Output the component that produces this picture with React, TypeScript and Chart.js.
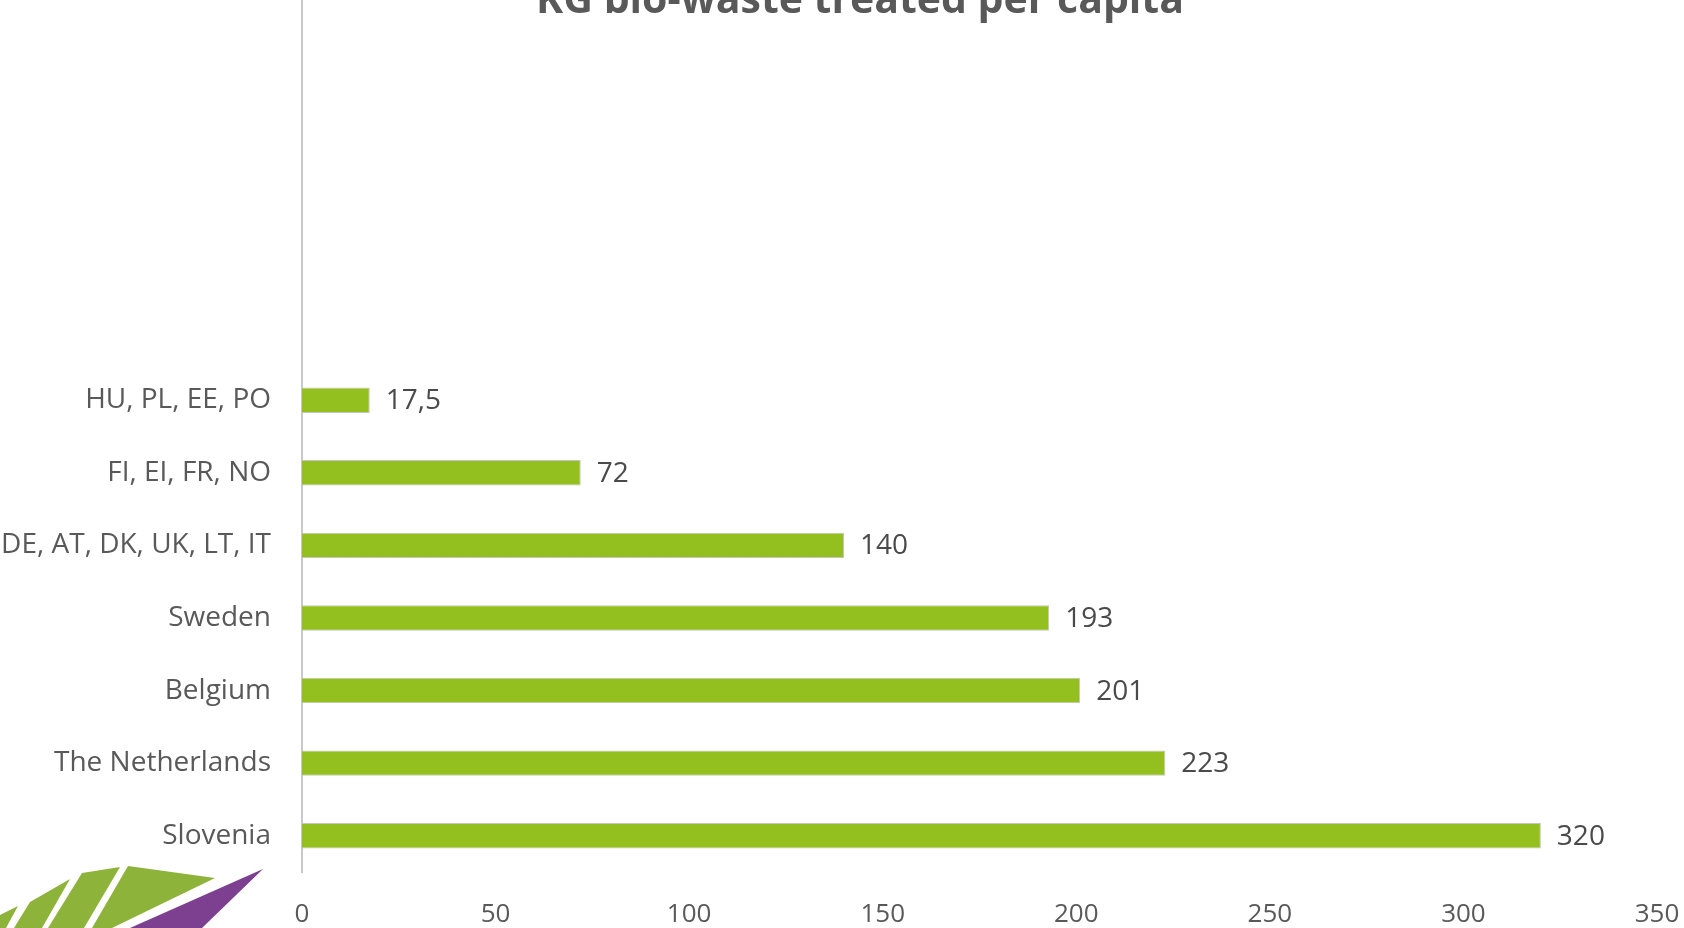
import React, { useEffect, useRef } from "react";
import { Chart, registerables } from "chart.js";

Chart.register(...registerables);

const TITLE = "KG bio-waste treated per capita";
const categories = [
  "", "", "", "", "",
  "HU, PL, EE, PO",
  "FI, EI, FR, NO",
  "DE, AT, DK, UK, LT, IT",
  "Sweden",
  "Belgium",
  "The Netherlands",
  "Slovenia",
];
const values: (number | null)[] = [null, null, null, null, null, 17.5, 72, 140, 193, 201, 223, 320];
const xTicks = [0, 50, 100, 150, 200, 250, 300, 350];

const FONT = "'Open Sans', 'DejaVu Sans', sans-serif";
const TEXT = "#595959";
const BAR = "#93c01f";

const titlePlugin = {
  id: "customTitle",
  afterDraw(chart: any) {
    const ctx = chart.ctx;
    ctx.save();
    ctx.font = `bold 41px ${FONT}`;
    ctx.fillStyle = TEXT;
    ctx.textAlign = "center";
    ctx.textBaseline = "alphabetic";
    ctx.fillText(TITLE, 860, 13);
    ctx.restore();
  },
};

const labelPlugin = {
  id: "barLabels",
  afterDatasetsDraw(chart: any) {
    const ctx = chart.ctx;
    const meta = chart.getDatasetMeta(0);
    ctx.save();
    ctx.font = `28px ${FONT}`;
    ctx.fillStyle = "#4a4a4a";
    ctx.textAlign = "left";
    ctx.textBaseline = "middle";
    meta.data.forEach((bar: any, i: number) => {
      const v = values[i];
      if (v === null || v === undefined) return;
      ctx.fillText(String(v).replace(".", ","), bar.x + 16, bar.y + 1);
    });
    ctx.restore();
  },
};

const logoPlugin = {
  id: "logo",
  beforeDraw(chart: any) {
    const ctx = chart.ctx;
    const polys: { c: string; p: number[][] }[] = [
      { c: "#8db33a", p: [[128, 866], [215, 878], [112, 928], [92, 928]] },
      { c: "#8db33a", p: [[82, 873], [120, 867], [84, 928], [48, 928]] },
      { c: "#8db33a", p: [[30, 902], [70, 879], [42, 928], [14, 928]] },
      { c: "#8db33a", p: [[0, 928], [0, 915], [18, 906], [6, 928]] },
      { c: "#7d3f8f", p: [[263, 869], [130, 928], [202, 928]] },
    ];
    ctx.save();
    polys.forEach((s) => {
      ctx.beginPath();
      s.p.forEach((pt, i) => (i === 0 ? ctx.moveTo(pt[0], pt[1]) : ctx.lineTo(pt[0], pt[1])));
      ctx.closePath();
      ctx.fillStyle = s.c;
      ctx.fill();
    });
    ctx.restore();
  },
};

export default function App() {
  const ref = useRef<HTMLCanvasElement | null>(null);
  useEffect(() => {
    if (!ref.current) return;
    const chart = new Chart(ref.current, {
      type: "bar",
      data: {
        labels: categories,
        datasets: [
          {
            data: values as any,
            backgroundColor: BAR,
            borderColor: "#c4c4c4",
            borderWidth: 1,
            categoryPercentage: 1,
            barPercentage: 0.35,
          },
        ],
      },
      options: {
        indexAxis: "y",
        animation: false,
        responsive: true,
        maintainAspectRatio: false,
        layout: { padding: { left: 0, right: 27, top: 1, bottom: 0 } },
        plugins: {
          legend: { display: false },
          tooltip: { enabled: false },
          title: { display: false },
        },
        scales: {
          x: {
            min: 0,
            max: 350,
            afterBuildTicks: (scale: any) => {
              scale.ticks = xTicks.map((v) => ({ value: v }));
            },
            afterFit: (scale: any) => {
              scale.height = 56;
              scale.paddingLeft = 0;
              scale.paddingRight = 0;
            },
            grid: { display: false, drawTicks: false },
            border: { display: false },
            ticks: {
              padding: 27,
              color: TEXT,
              font: { family: FONT, size: 26 },
              maxRotation: 0,
            },
          },
          y: {
            afterFit: (scale: any) => {
              scale.width = 302;
              scale.paddingTop = 0;
              scale.paddingBottom = 0;
            },
            grid: { display: false, drawTicks: false },
            border: { display: true, color: "#c8c8c8", width: 2 },
            ticks: {
              padding: 31,
              color: TEXT,
              font: { family: FONT, size: 28 },
              autoSkip: false,
            },
          },
        },
      },
      plugins: [logoPlugin, labelPlugin, titlePlugin],
    });
    return () => chart.destroy();
  }, []);
  return (
    <div style={{ position: "fixed", left: 0, top: 0, width: 1684, height: 928, background: "#fff" }}>
      <canvas ref={ref} />
    </div>
  );
}
